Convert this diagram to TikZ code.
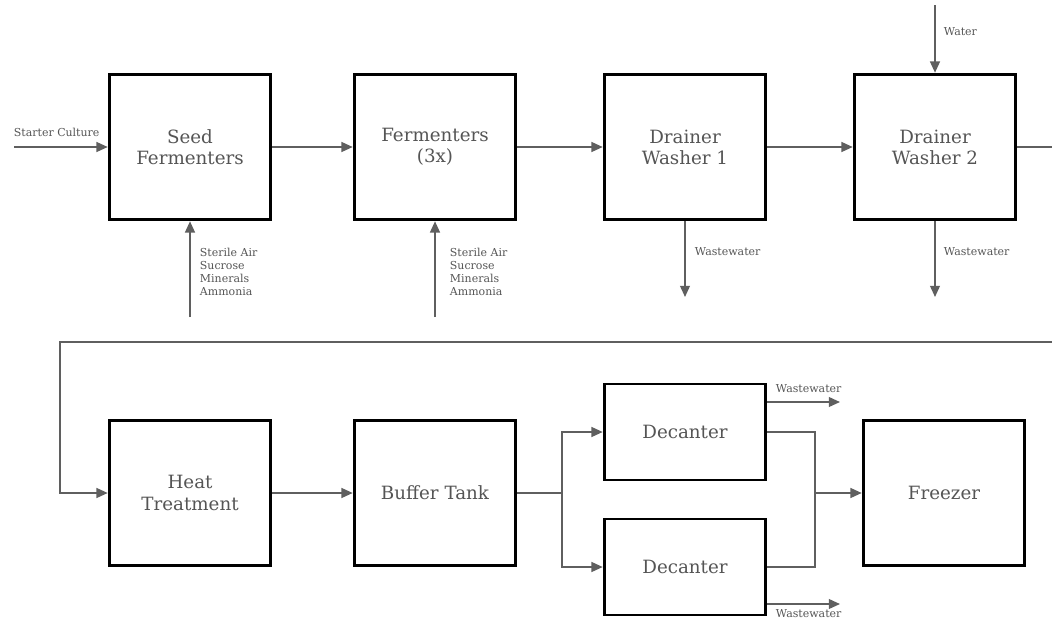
\documentclass[tikz,border=0pt]{standalone}
\usepackage{fontspec}
\setmainfont{DejaVu Serif}
\usetikzlibrary{arrows.meta}
\definecolor{linegray}{HTML}{5F5F5F}
\definecolor{textgray}{HTML}{555555}

\begin{document}
\begin{tikzpicture}[x=0.25mm, y=-0.25mm,
	unit/.style={draw=black, line width=2.1pt, fill=white, minimum width=40.4mm, minimum height=36.4mm, align=center, font=\fontsize{13}{15}\selectfont, text=textgray},
	flow/.style={draw=linegray, line width=1.2pt},
	feed/.style={flow, -{Triangle[length=8pt,width=7pt]}},
	tag/.style={font=\fontsize{7.8}{9.4}\selectfont, text=textgray, align=left}]
	\useasboundingbox (0,0) rectangle (1052,621);

	%process units
	\node[unit] (seed) at (190,147) {Seed\\Fermenters};
	\node[unit] (ferm) at (435,147) {Fermenters\\(3x)};
	\node[unit] (dw1) at (685,147) {Drainer\\Washer 1};
	\node[unit] (dw2) at (935,147) {Drainer\\Washer 2};
	\node[unit] (heat) at (190,493) {Heat\\Treatment};
	\node[unit] (buffer) at (435,493) {Buffer Tank};
	\node[unit, minimum height=24mm] (dectop) at (685,432) {Decanter};
	\node[unit, minimum height=24mm] (decbot) at (685,567) {Decanter};
	\node[unit] (freezer) at (944,493) {Freezer};

	%free ends
	\coordinate (starter) at (14,147);
	\coordinate (water) at (935,5);
	\coordinate (ww1) at (685,297);
	\coordinate (ww2) at (935,297);
	\coordinate (feed1) at (190,317);
	\coordinate (feed2) at (435,317);
	\coordinate (outR) at (1052,147);
	\coordinate (backR) at (1052,342);
	\coordinate (backL) at (60,342);
	\coordinate (split) at (562,493);
	\coordinate (merge) at (815,493);
	\coordinate (ww3) at (840,402);
	\coordinate (ww4) at (840,604);

	%top line
	\draw[feed] (starter) -- (seed);
	\draw[feed] (seed) -- (ferm);
	\draw[feed] (ferm) -- (dw1);
	\draw[feed] (dw1) -- (dw2);
	\draw[feed] (water) -- (dw2);
	\draw[feed] (dw1) -- (ww1);
	\draw[feed] (dw2) -- (ww2);
	\draw[feed] (feed1) -- (seed);
	\draw[feed] (feed2) -- (ferm);
	\draw[flow] (dw2) -- (outR);

	\node[tag, anchor=west] at (9,132) {Starter Culture};
	\node[tag, anchor=west] at (939,32) {Water};
	\node[tag, anchor=west] at (690,252) {Wastewater};
	\node[tag, anchor=west] at (939,252) {Wastewater};
	\node[tag, anchor=west] at (195,272) {Sterile Air\\Sucrose\\Minerals\\Ammonia};
	\node[tag, anchor=west] at (445,272) {Sterile Air\\Sucrose\\Minerals\\Ammonia};

	%bottom line
	\draw[feed] (backR) -- (backL) |- (heat);
	\draw[feed] (heat) -- (buffer);
	\draw[flow] (buffer) -- (split);
	\draw[feed] (split) |- (dectop);
	\draw[feed] (split) |- (decbot);
	\draw[flow] (dectop) -| (merge);
	\draw[flow] (decbot) -| (merge);
	\draw[feed] (merge) -- (freezer);
	\draw[feed] (dectop.east |- ww3) -- (ww3);
	\draw[feed] (decbot.east |- ww4) -- (ww4);

	\node[tag, anchor=west] at (771,389) {Wastewater};
	\node[tag, anchor=west] at (771,614) {Wastewater};
\end{tikzpicture}
\end{document}
